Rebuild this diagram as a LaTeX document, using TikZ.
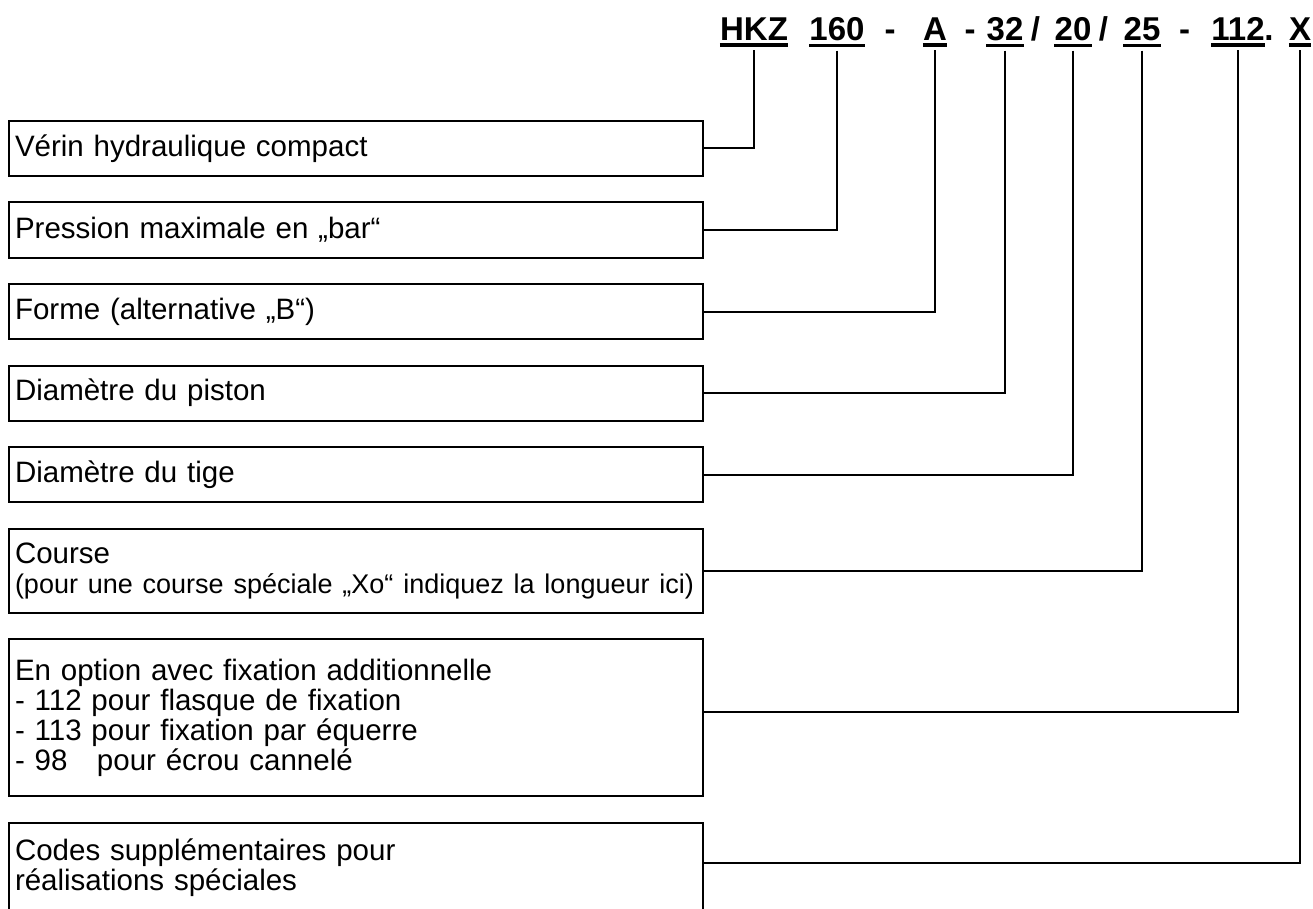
\documentclass[tikz,border=0pt]{standalone}
\usepackage{fontspec}
\setmainfont{Liberation Sans}
\usetikzlibrary{positioning}

\begin{document}
\begin{tikzpicture}[x=1pt,y=-1pt,
        box/.style={draw, line width=2pt, outer sep=0pt, inner xsep=6pt, inner ysep=0pt,
            text width=682pt, align=left, minimum height=55pt,
            font=\fontsize{29.5pt}{30pt}\selectfont},
        code/.style={anchor=base, inner sep=0pt, font=\fontsize{33pt}{36pt}\selectfont\bfseries},
        link/.style={line width=2pt},
        node distance=26.5pt]
            \useasboundingbox (0,0) rectangle (1313,909);

            \node[code] (hkz) at (754,41) {HKZ};
            \node[code] (p160) at (837,41) {160};
            \node[code] (s1) at (890,41) {-};
            \node[code] (a) at (935,41) {A};
            \node[code] (s2) at (970,41) {-};
            \node[code] (d32) at (1005,41) {32};
            \node[code] (s3) at (1035.5,41) {/};
            \node[code] (d20) at (1073,41) {20};
            \node[code] (s4) at (1103.5,41) {/};
            \node[code] (d25) at (1142,41) {25};
            \node[code] (s5) at (1184.5,41) {-};
            \node[code] (d112) at (1238,41) {112};
            \node[code] (s6) at (1269,41) {.};
            \node[code] (x) at (1300,41) {X};

            \foreach \t in {hkz,p160,a,d32,d20,d25,d112,x}
                \draw[line width=3.5pt] ([yshift=-4pt]\t.south west) -- ([yshift=-4pt]\t.south east);

            \node[box, anchor=north west] (verin) at (9,121) {Vérin hydraulique compact};
            \node[box, below=of verin] (pression) {Pression maximale en „bar“};
            \node[box, below=of pression] (forme) {Forme (alternative „B“)};
            \node[box, below=of forme] (piston) {Diamètre du piston};
            \node[box, below=of piston] (tige) {Diamètre du tige};
            \node[box, below=of tige, minimum height=84pt] (course) {Course\\\mbox{\fontsize{27pt}{28pt}\selectfont(pour une course spéciale „Xo“ indiquez la longueur ici)}};
            \node[box, below=of course, minimum height=157pt] (option) {En option avec fixation additionnelle\\- 112 pour flasque de fixation\\- 113 pour fixation par équerre\\- 98\ \ \ pour écrou cannelé};
            \node[box, below=of option, minimum height=90pt] (codes) {Codes supplémentaires pour\\réalisations spéciales};

            \draw[link] ([yshift=-9pt]hkz.south) |- (verin.east);
            \draw[link] ([yshift=-9pt]p160.south) |- (pression.east);
            \draw[link] ([yshift=-9pt]a.south) |- (forme.east);
            \draw[link] ([yshift=-9pt]d32.south) |- (piston.east);
            \draw[link] ([yshift=-9pt]d20.south) |- (tige.east);
            \draw[link] ([yshift=-9pt]d25.south) |- (course.east);
            \draw[link] ([yshift=-9pt]d112.south) |- ([yshift=6pt]option.east);
            \draw[link] ([yshift=-9pt]x.south) |- ([yshift=5pt]codes.east);
\end{tikzpicture}
\end{document}
